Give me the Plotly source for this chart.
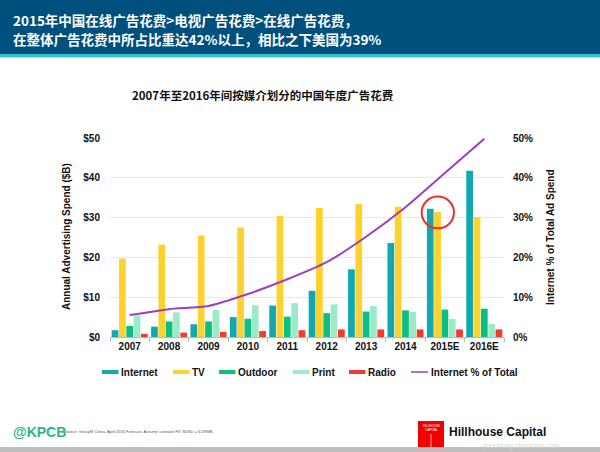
import plotly.graph_objects as go

years = ["2007", "2008", "2009", "2010", "2011", "2012", "2013", "2014", "2015E", "2016E"]
internet = [1.7, 2.6, 3.2, 5.0, 7.9, 11.6, 17.0, 23.6, 32.2, 41.8]
tv = [19.7, 23.2, 25.5, 27.5, 30.4, 32.4, 33.4, 32.7, 31.4, 30.1]
outdoor = [2.8, 3.9, 3.9, 4.6, 5.1, 6.0, 6.4, 6.7, 6.9, 7.1]
printm = [5.4, 6.2, 6.8, 8.0, 8.5, 8.2, 7.8, 6.3, 4.5, 3.3]
radio = [0.8, 1.1, 1.3, 1.5, 1.7, 1.9, 1.9, 1.9, 1.9, 1.9]
internet_pct = [5.5, 7.0, 7.8, 10.8, 14.5, 18.8, 25.2, 32.6, 41.2, 49.8]

left_ticks = [0, 10, 20, 30, 40, 50]
left_labels = ["$0", "$10", "$20", "$30", "$40", "$50"]
right_ticks = [0, 10, 20, 30, 40, 50]
right_labels = ["0%", "10%", "20%", "30%", "40%", "50%"]

W, H = 600, 452
ML, MR, MT, MB = 110, 96, 138, 115
PW = W - ML - MR
PH = H - MT - MB

def px(x):
    return (x - ML) / PW

def py(y):
    return (H - MB - y) / PH

FONT = "Liberation Sans, Arial, sans-serif"
CJK = "Noto Sans CJK SC, sans-serif"

fig = go.Figure()
series = [
    ("Internet", internet, "#13A8AF"),
    ("TV", tv, "#FDD22E"),
    ("Outdoor", outdoor, "#0DBF7E"),
    ("Print", printm, "#9BEBC9"),
    ("Radio", radio, "#F23B2F"),
]
LINE_NAME, LINE_COL = "Internet % of Total", "#9B3FC2"
for name, vals, col in series:
    fig.add_trace(go.Bar(x=years, y=vals, name=name, marker=dict(color=col, line=dict(width=0))))

fig.add_trace(go.Scatter(x=years, y=internet_pct, name=LINE_NAME, yaxis="y2",
                         mode="lines", line=dict(color=LINE_COL, width=2, shape="spline", smoothing=0.6)))

shapes = [
    dict(type="rect", xref="paper", yref="paper", x0=px(0), x1=px(W), y0=py(0), y1=py(54),
         fillcolor="#00507E", line=dict(width=0), layer="below"),
    dict(type="rect", xref="paper", yref="paper", x0=px(0), x1=px(W), y0=py(54), y1=py(57.5),
         fillcolor="#2EC4D6", line=dict(width=0), layer="below"),
    dict(type="rect", xref="paper", yref="paper", x0=px(0), x1=px(W), y0=py(447), y1=py(H),
         fillcolor="#BDBDBD", line=dict(width=0), layer="below"),
    dict(type="rect", xref="paper", yref="paper", x0=px(418), x1=px(444), y0=py(421), y1=py(447),
         fillcolor="#F20000", line=dict(width=0)),
    dict(type="line", xref="paper", yref="paper", x0=px(431), x1=px(431), y0=py(434), y1=py(447),
         line=dict(color="white", width=0.6)),
    dict(type="circle", xref="x", yref="y", x0=7.41, x1=8.23, y0=27.3, y1=35.3,
         line=dict(color="#E8322B", width=2)),
]

ann = [
    dict(text="<b>2015年中国在线广告花费>电视广告花费>在线广告花费，</b>", x=px(11), y=py(20),
         font=dict(family=CJK, size=13.5, color="white")),
    dict(text="<b>在整体广告花费中所占比重达42%以上，相比之下美国为39%</b>", x=px(11), y=py(38.5),
         font=dict(family=CJK, size=13.5, color="white")),
    dict(text="<b>2007年至2016年间按媒介划分的中国年度广告花费</b>", x=px(263), y=py(95), xanchor="center",
         font=dict(family=CJK, size=11.5, color="#111")),
    dict(text="<b>Annual Advertising Spend ($B)</b>", x=px(66), y=py(237), xanchor="center", textangle=-90,
         font=dict(family=FONT, size=10, color="#111")),
    dict(text="<b>Internet % of Total Ad Spend</b>", x=px(550), y=py(237), xanchor="center", textangle=-90,
         font=dict(family=FONT, size=10, color="#111")),
    dict(text="<b>@KPCB</b>", x=px(11), y=py(432),
         font=dict(family=FONT, size=14, color="#2DB87D")),
    dict(text="Source: GroupM China, April 2016 Forecast. Assume constant FX: $USD = 6.5RMB.", x=px(62), y=py(431),
         font=dict(family=FONT, size=4, color="#555")),
    dict(text="HILLHOUSE<br>CAPITAL", x=px(431), y=py(428), xanchor="center",
         font=dict(family=FONT, size=3, color="white")),
    dict(text="<b>Hillhouse Capital</b>", x=px(447), y=py(432),
         font=dict(family=FONT, size=12, color="#111")),
    dict(text="jiaocheng.chazidian.com", x=px(480), y=py(445.5),
         font=dict(family=FONT, size=7, color="#D8D8D8")),
]

# manual legend
LEG_Y = 372
leg_x = [102, 173, 219, 293, 349]
for (name, vals, col), lx in zip(series, leg_x):
    shapes.append(dict(type="rect", xref="paper", yref="paper", x0=px(lx), x1=px(lx + 16.5),
                       y0=py(LEG_Y - 2), y1=py(LEG_Y + 2), fillcolor=col, line=dict(width=0)))
    ann.append(dict(text="<b>" + name + "</b>", x=px(lx + 16.5), y=py(LEG_Y),
                    font=dict(family=FONT, size=10, color="#111")))
shapes.append(dict(type="line", xref="paper", yref="paper", x0=px(411), x1=px(428),
                   y0=py(LEG_Y), y1=py(LEG_Y), line=dict(color=LINE_COL, width=1.5)))
ann.append(dict(text="<b>" + LINE_NAME + "</b>", x=px(428.5), y=py(LEG_Y),
                font=dict(family=FONT, size=10, color="#111")))

for a in ann:
    a.setdefault("xanchor", "left")
    a.update(xref="paper", yref="paper", yanchor="middle", showarrow=False)

fig.update_layout(
    width=W, height=H,
    margin=dict(l=ML, r=MR, t=MT, b=MB, pad=0),
    paper_bgcolor="white", plot_bgcolor="white",
    barmode="group", bargap=0.07, bargroupgap=0.08,
    font=dict(family=FONT, color="#111"),
    showlegend=False,
    xaxis=dict(type="category", showgrid=False, showline=True, linecolor="#BBBBBB", linewidth=1,
               ticks="outside", tickson="boundaries", ticklen=4, tickcolor="#BBBBBB",
               tickfont=dict(family=FONT, size=10, color="#111", weight="bold"), automargin=False),
    yaxis=dict(range=[0, 50], tickvals=left_ticks, ticktext=left_labels, showgrid=True,
               gridcolor="#E8E8E8", gridwidth=1, zeroline=False, showline=False, ticks="",
               tickfont=dict(family=FONT, size=10, color="#111", weight="bold"), ticklabelstandoff=9,
               automargin=False),
    yaxis2=dict(range=[0, 50], tickvals=right_ticks, ticktext=right_labels, overlaying="y", side="right",
                showgrid=False, zeroline=False, showline=False, ticks="",
                tickfont=dict(family=FONT, size=10, color="#111", weight="bold"), ticklabelstandoff=8,
                automargin=False),
    shapes=shapes,
    annotations=ann,
)

fig.write_html("out.html", config={"displayModeBar": False},
               post_script="document.body.style.margin='0';document.body.style.padding='0';document.body.style.overflow='hidden';")
